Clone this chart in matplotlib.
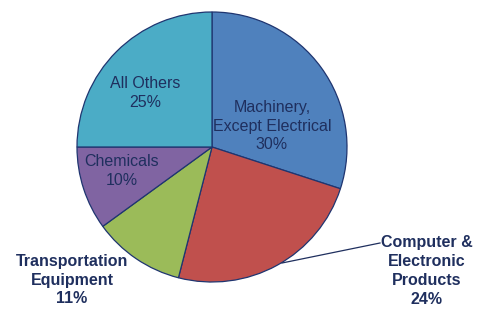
import matplotlib
matplotlib.use("Agg")
import matplotlib.pyplot as plt

# Dados do gráfico
categorias = ["Machinery,\nExcept Electrical", "Computer &\nElectronic\nProducts",
              "Transportation\nEquipment", "Chemicals", "All Others"]
percentuais = [30, 24, 11, 10, 25]
cores = ["#4F81BD", "#C0504D", "#9BBB59", "#8064A2", "#4BACC6"]

fonte = ["Liberation Sans", "DejaVu Sans"]
azul_texto = "#1F2F5E"

fig = plt.figure(figsize=(4.78, 3.12), dpi=100)
ax = fig.add_axes([0, 0, 1, 1])

ax.pie(percentuais, colors=cores, startangle=90, counterclock=False,
       center=(212, 165), radius=135, frame=True,
       wedgeprops=dict(edgecolor="#1F3570", linewidth=0.9))
ax.set_xlim(0, 478)
ax.set_ylim(0, 312)
ax.axis("off")

# Rótulos
posicoes = [(272, 186), (427, 41), (72, 32), (122, 141), (145, 219)]
negrito = [False, True, True, False, False]
for cat, pct, (x, y), b in zip(categorias, percentuais, posicoes, negrito):
    ax.text(x, y, f"{cat}\n{pct}%", ha="center", va="center",
            fontsize=11.5, color=azul_texto, family=fonte,
            fontweight="bold" if b else "normal", linespacing=1.32)

# Linha de chamada
ax.plot([282, 380], [49, 69], color="#1F2F5E", lw=0.9)

fig.savefig("out.png", dpi=100)
